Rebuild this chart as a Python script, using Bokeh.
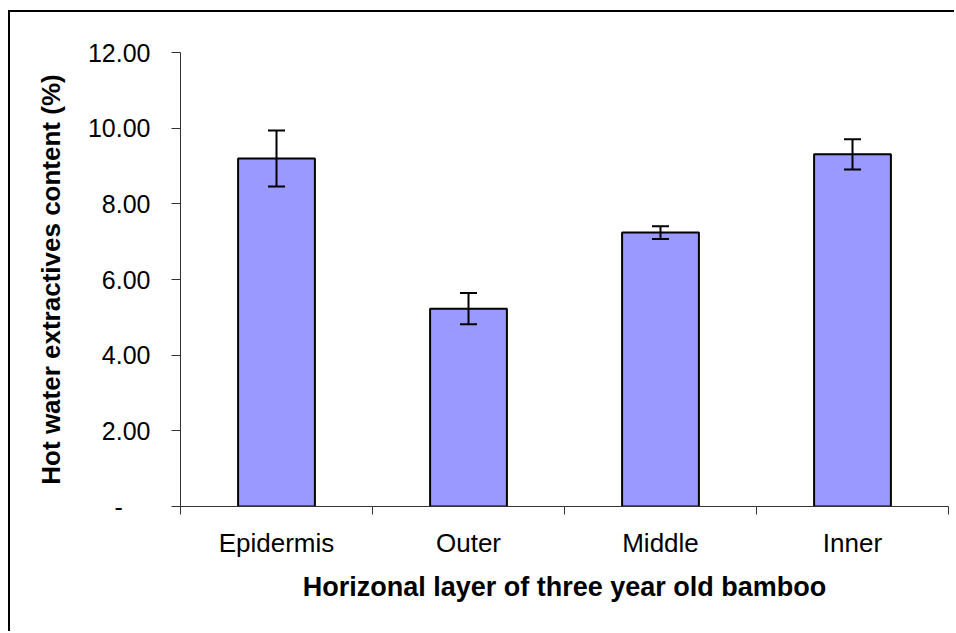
from bokeh.plotting import figure
from bokeh.models import (ColumnDataSource, FixedTicker, Whisker, TeeHead, Range1d,
                          CustomJSTickFormatter)
from bokeh.embed import file_html
from bokeh.resources import INLINE

# ---- data ----
layers = ["Epidermis", "Outer", "Middle", "Inner"]
means = [9.20, 5.23, 7.24, 9.31]
errors = [0.74, 0.41, 0.17, 0.40]
y_ticks = [0, 2, 4, 6, 8, 10, 12]

x_pos = [i + 0.5 for i in range(len(layers))]
source = ColumnDataSource(dict(
    x=x_pos, layer=layers, mean=means,
    upper=[m + e for m, e in zip(means, errors)],
    lower=[m - e for m, e in zip(means, errors)],
))

FONT = "Liberation Sans"
AXIS_COLOR = "#333333"

p = figure(width=946, height=621,
           x_range=Range1d(0, len(layers)), y_range=Range1d(0, 12),
           output_backend="svg", toolbar_location=None,
           min_border_left=170, min_border_right=8,
           min_border_top=40, min_border_bottom=127)
p.styles = {"border-left": "2px solid black", "border-top": "2px solid black",
            "margin-left": "8px", "margin-top": "10px"}
p.outline_line_color = None
p.xgrid.visible = False
p.ygrid.visible = False

p.vbar(x="x", top="mean", width=0.4, source=source,
       fill_color="#9999FF", line_color="black", line_width=2)

w = Whisker(base="x", upper="upper", lower="lower", source=source,
            line_color="black", line_width=2, level="overlay",
            upper_head=TeeHead(size=17, line_width=2, line_color="black"),
            lower_head=TeeHead(size=17, line_width=2, line_color="black"))
p.add_layout(w)

# x axis
xa = p.xaxis[0]
xa.ticker = FixedTicker(ticks=x_pos, minor_ticks=list(range(len(layers) + 1)))
xa.formatter = CustomJSTickFormatter(args=dict(names=layers),
                                     code="return names[Math.floor(tick)];")
xa.major_tick_line_color = None
xa.minor_tick_out = 8
xa.minor_tick_in = 0
xa.minor_tick_line_color = AXIS_COLOR
xa.axis_line_color = AXIS_COLOR
xa.major_label_text_font = FONT
xa.major_label_text_font_size = "26px"
xa.major_label_text_color = "black"
xa.major_label_standoff = 13
xa.axis_label = "Horizonal layer of three year old bamboo"
xa.axis_label_text_font = FONT
xa.axis_label_text_font_size = "27px"
xa.axis_label_text_font_style = "bold"
xa.axis_label_text_color = "black"
xa.axis_label_standoff = 11

# y axis
ya = p.yaxis[0]
ya.ticker = FixedTicker(ticks=y_ticks, minor_ticks=[])
ya.formatter = CustomJSTickFormatter(
    code="return tick == 0 ? '-\u00a0\u00a0\u00a0\u00a0' : tick.toFixed(2);")
ya.major_tick_out = 9
ya.major_tick_in = 0
ya.major_tick_line_color = AXIS_COLOR
ya.axis_line_color = AXIS_COLOR
ya.major_label_text_font = FONT
ya.major_label_text_font_size = "25px"
ya.major_label_text_color = "black"
ya.major_label_standoff = 21
ya.axis_label = "Hot water extractives content (%)"
ya.axis_label_text_font = FONT
ya.axis_label_text_font_size = "26px"
ya.axis_label_text_font_style = "bold"
ya.axis_label_text_color = "black"
ya.axis_label_standoff = 19

open("out.html", "w").write(file_html(p, INLINE))
